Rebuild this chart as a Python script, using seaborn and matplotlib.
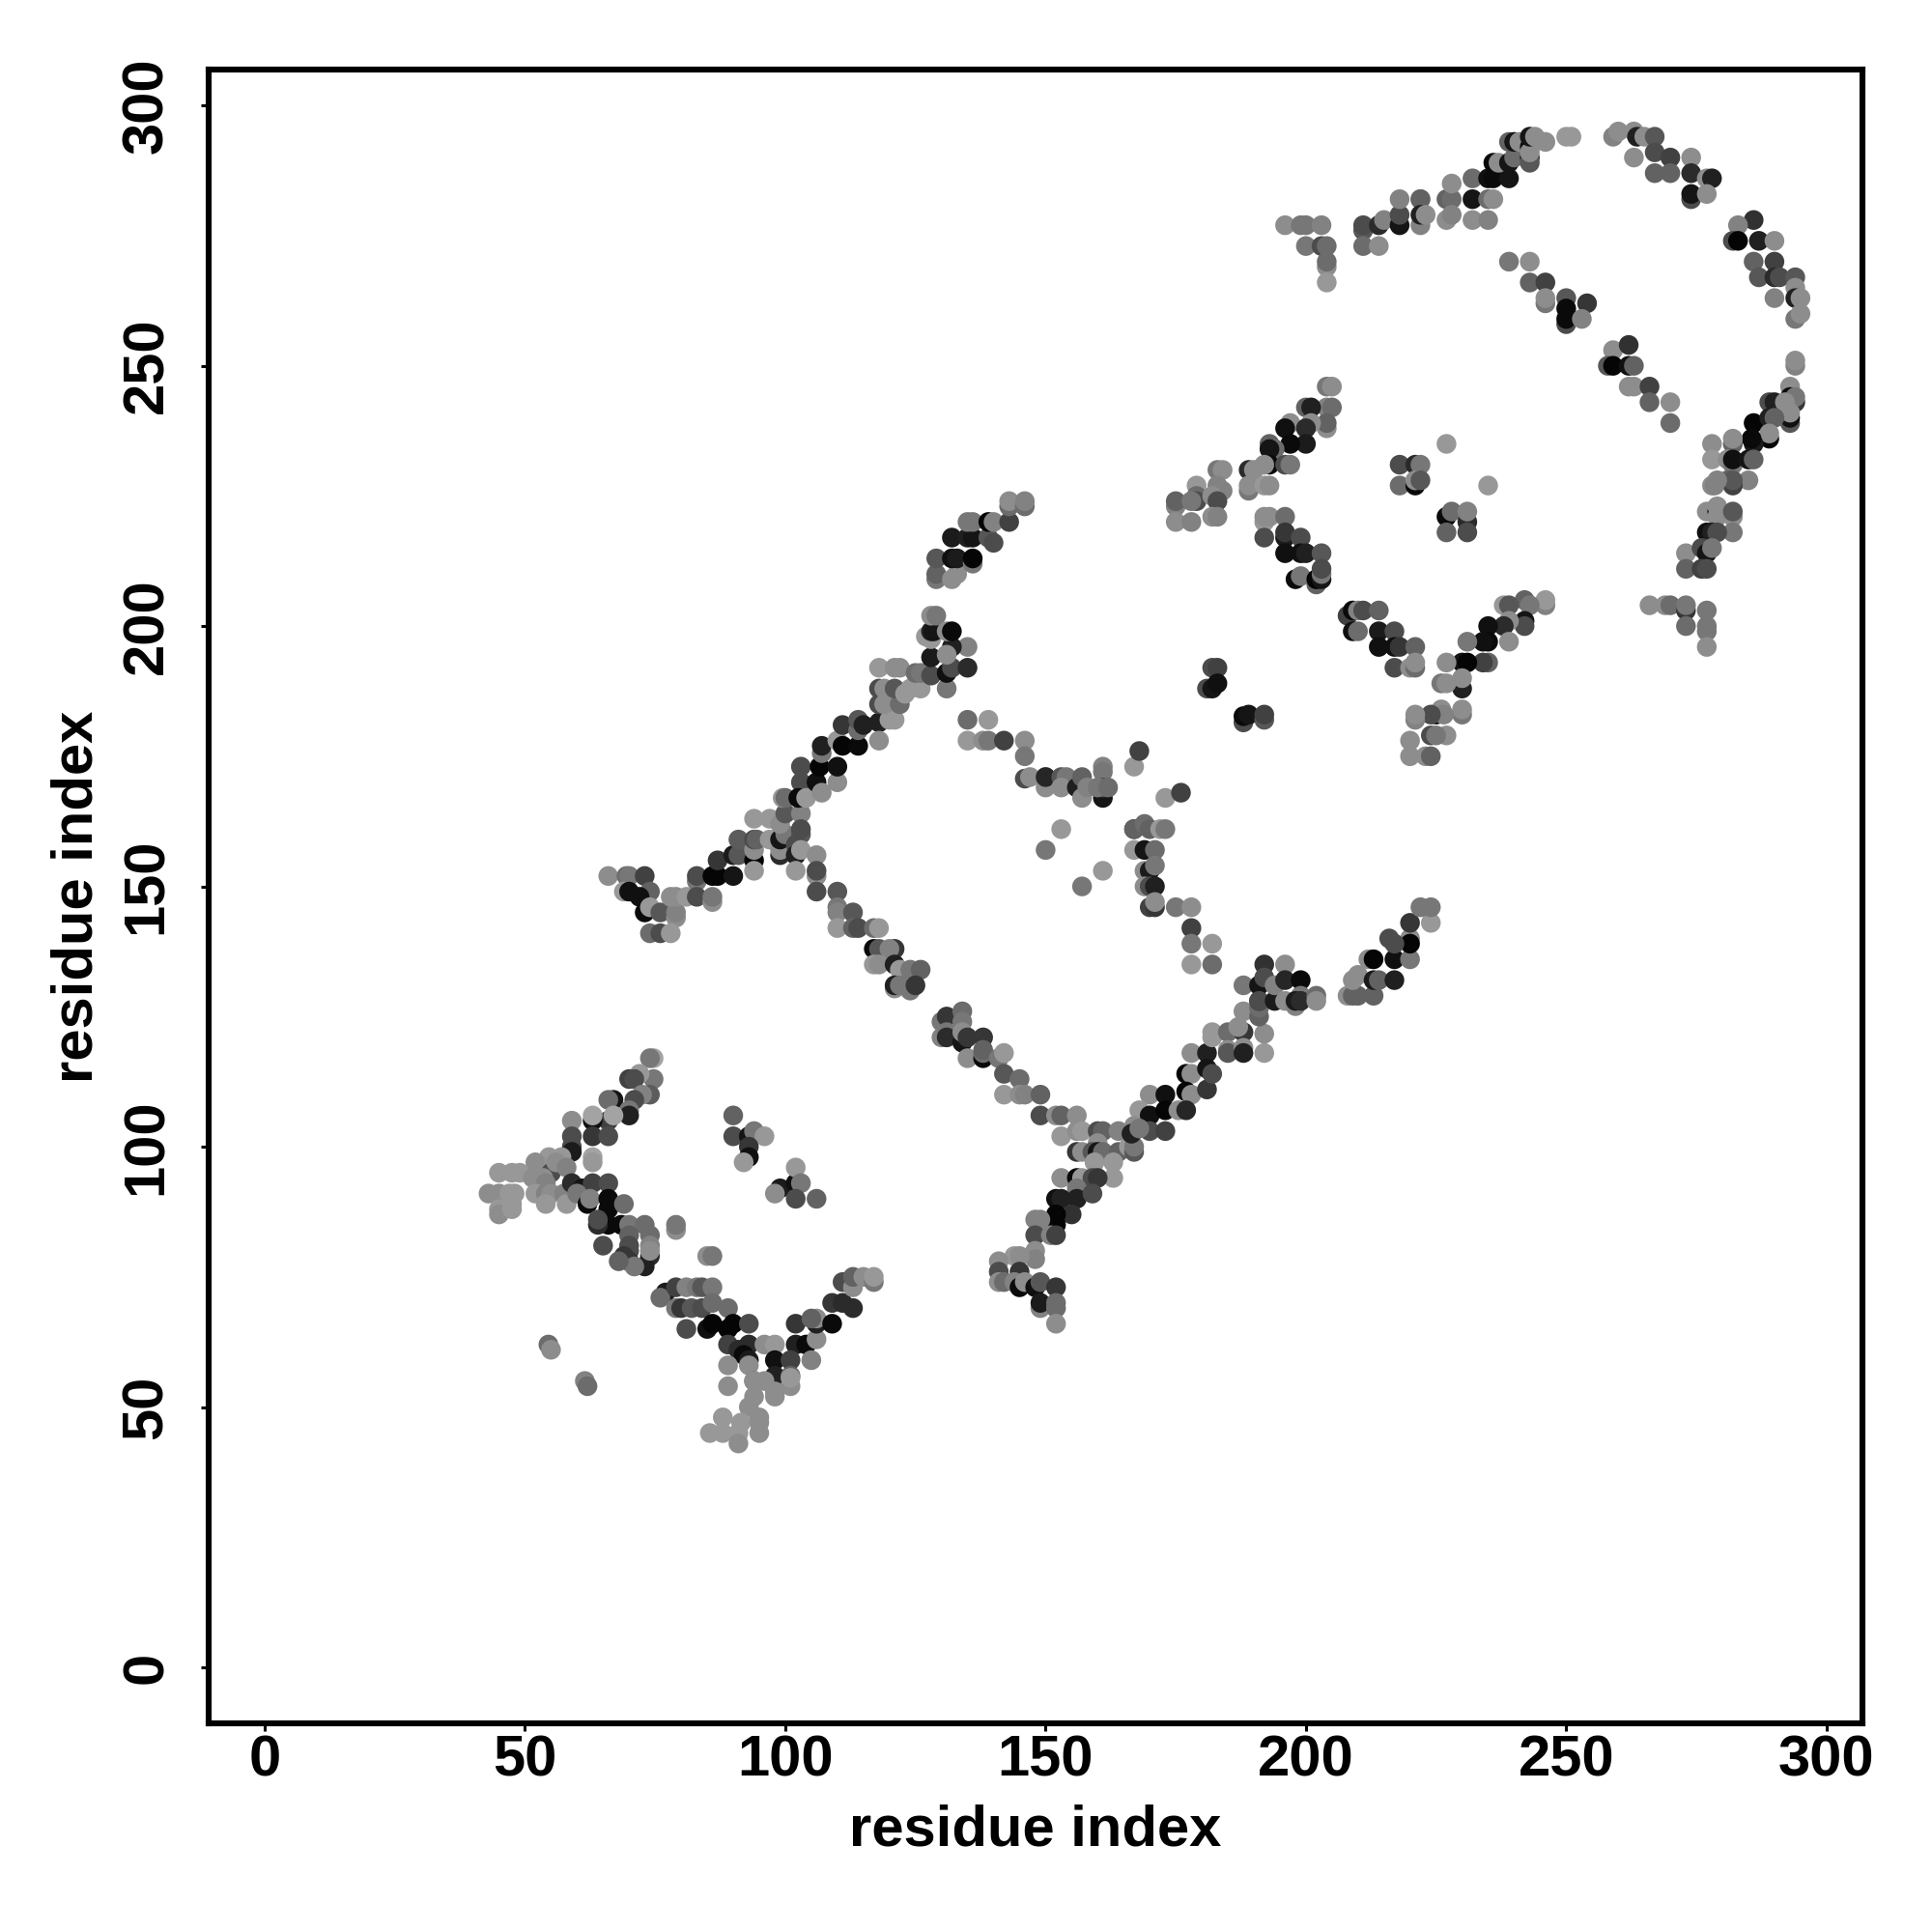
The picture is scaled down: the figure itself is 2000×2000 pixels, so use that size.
"""Residue contact map, x index / y index / shade per contact."""
import pandas as pd
import matplotlib
matplotlib.use("Agg")
import matplotlib.pyplot as plt
import seaborn as sns

# (residue x, residue y, grey level)
wedge_upper = [
    (74.7,117,150),(74,117,110),(74.7,113,110),(72,114,140),(70,113,60),(71,113,70),(74,110,85),(72.5,110,120),
    (67,109,20),(66,109,100),(71,109,70),(70,107,110),(70,106,30),(66,105,60),(67,106,150),(63,105,15),
    (63,106,150),(59,105,130),(59,102,70),(59,100,70),(63,102,50),(66,102,70),(59,99,25),(63,98,150),
    (63,97,140),(57,98,140),(54.6,98,140),(52,97,130),(55,95,70),(56,97,130),(58,96,120),
]
wedge_left = [
    (45,95,140),(47.5,95,140),(49,95,140),(51.5,94,130),(53.5,94,130),(54,93,120),(43,91,130),(45,91,130),
    (47,91,140),(48,91,140),(52,91,140),(54,91,120),(55,91,130),(57.5,91,120),(54,89,140),(58,89,140),
    (47.5,89,140),(45,88,140),(45,87,130),(47.5,88,140),
]
wedge_lower = [
    (59,93,40),(61,92,20),(63,93,60),(66,93,70),(60,91,110),(62,89,10),(62.5,90,120),(66,90,10),(66,88,10),
    (69,89,100),(66,85,10),(64,85,40),(64,86,70),(68.5,85,10),(70,85,110),(73,85,100),(70,83,90),(74,83,100),
    (70,81,70),(74,81,120),(65,81,70),(70,80,70),(69,79,50),(70,78,50),(74,79,40),(73,77,30),(71,77,110),
    (68,78,90),(74,80,130),
]
inner_first = [
    (90,106,90),(90,102,70),(93,102,20),(94,103,110),(96,102,140),(93,100,50),(93,98,15),(92,97,140),
    (99,92,25),(98,91,130),(102,93,15),(102,96,140),(103,93,110),(102,90,70),(106,90,90),
    (79,84,130),(79,85,110),(85,79,130),(86,79,110),(54.5,62,100),(55,61,130),(61.5,55,120),(62,54,100),
]
v_bottom = [
    (77,72,25),(76,71,100),(79,73,60),(81,73,120),(83,73,110),(84,73,80),(86,73,110),(79,69,110),(80,69,50),
    (82,69,80),(84,69,70),(86,70,100),(89,69,100),(81,65,70),(85,65,15),(86,66,5),(89,65,5),(90,66,5),(93,66,70),
    (89,62,60),(91,61,40),(93,62,40),(92,60,10),(96,62,130),(98,62,140),(102,66,50),(102,62,30),(104,62,10),
    (106,63,130),(89,58,130),(93,59,25),(98,59,15),(101,59,60),(105,59,120),(106,66,30),(106,67,130),(109,66,10),
    (105,67,90),(109,70,50),(111,70,40),(113,69,40),(111,74,70),(113,73,130),(113,75,90),(115,75,130),(117,74,110),
    (117,75,140),
]
v_stem = [
    (89,54,130),(93,58,130),(94,55,90),(94,55,130),(94,52,130),(93,50,130),(98,56,30),(96,55,130),(98,53,130),
    (98,52,130),(101,56,90),(101,54,130),(101,55.6,140),(88,48,140),(85.5,45,140),(88,45,140),(91.5,47,140),
    (91,45,140),(91,43,130),(95,48,130),(95,47,130),(95,45,130),
]
diag_left = [
    (66,152,130),(69.5,152,100),(70,152,110),(73,152,60),(69,149,140),(70,149,15),(74,149,90),(72,148,15),
    (73,145,10),(74,146,140),(76,145,80),(79,144,130),(79,145,120),(78,148,130),(79,148,130),(81,148,140),
    (74,141,100),(76,141,70),(78,141,140),(83,151,110),(83,152,70),(83,148,70),(86,147,130),(86,148,110),
    (86,152,5),(87,152,5),(87,155,50),(90,152,20),(90,156,25),(91,156,80),(91,159,85),
    (94,155,5),(94,153,140),(94,157,130),(94,159,70),(94.5,159,90),(94,163,140),
]
diag_hub = [
    (97,163,140),(97,159,140),(99,156,40),(99,157,130),(99,159,20),(100,160,110),(99,162,130),(100,164,80),
    (99.5,167,140),(100,167,100),(103,164,120),(103,160,80),(103,161,70),(102,158,70),(102,156,30),(103,157,140),
    (102,153,140),(106,156,130),(106,152,130),(106,153,70),(106,149,70),
]
diag_mid = [
    (103,170,70),(103,173,70),(102.5,167,10),(104,167,140),(106,170,15),(107,168,130),(110,170,130),(106.6,173,5),
    (110,173,15),(107,175.6,110),(107,177,30),(110,178,140),(111,177,5),(114,177,10),(111,181,50),(114,180,100),
    (114,182,80),(115,181,30),(118,181.5,30),(118,178,130),(121,182,140),(120,182,140),
    (118,188,70),(118,185,70),(119,185,130),(119,188,130),(122,185,100),(121,188,80),(123,187,140),(126,188,140),
    (124,188,140),(118,192,140),(121,192,130),(122,192,130),(125,191,100),(126,191,110),
]
diag_top = [
    (128,190.5,70),(128,194,25),(127,198,140),(128,197.5,140),(128,199,30),(128.5,199,20),(128,202,130),(129,202,110),
    (131,188,110),(131,191,15),(132,192,70),(135,192,40),(135,196,120),(132,196,30),(131,194.5,130),(131,199,130),
    (132,199,10),
]
diag_crown = [
    (129,209,110),(129,210,90),(132,209,130),(133,210,130),(129,213,80),(132,213,15),(133,213,25),(136,212,110),
    (136,213,5),(132,217,25),(135,217,30),(136,217,20),(139,217,80),(140,216,70),(135,220,110),(136,220,110),
    (139,220,5),(140,220,120),(143,220,60),(143,223,100),(143,224,130),(146,223,100),(146,224,120),
]
strand_top = [
    (135,182,100),(139,182,140),(135,178,140),(138,178,130),(139,178,110),(142,178,60),(146,178,130),(146,175,110),
    (146,170.7,70),(147,171,130),(150,169,130),(150,171,130),(150,171,35),(153,171,80),(154,171,110),(153,169,130),
    (156,169,30),(157,167,130),(157,171,90),(158,169,120),(161,173,120),(161,172,110),(161,167,20),(161,169,70),
    (160,169,110),(162,169,100),(167,173,140),(168,176,60),(173,167,140),(176,168,60),
    (153,161,140),(150,157,110),(161,153,140),(157,150,110),
]
strand_vert = [
    (167,161,15),(167,161,90),(169,162,100),(170,161,90),(172,161,140),(173,161,110),(167,157,140),(169,157,20),
    (171,157,100),(169,153,130),(170,153,25),(171,154,110),(169,150,130),(170,150,70),(171,150,30),(170,146,60),
    (171,146,50),(171,147,130),(175,146,110),(178,146,130),(178,142,60),(178,139,110),(178,135,140),(182,139,140),
    (182,135,100),
]
strand_down = [
    (110,149,80),(110,146,110),(110,145,120),(113,145,80),(110,142,140),(113,142,90),(114,142,70),(117,142,100),
    (118,142,140),(117,138,10),(118,138,80),(121,138,50),(120,138,120),(117,135,140),(118,135,130),(121,135,30),
    (122,134,140),(124,134,110),(126,134,90),(121,130.4,130),(121,131,30),(122,131,110),(124,130,110),(125,131,50),
    (130,124,110),(131,125,50),(134,126,100),(134,124,110),(130,121,120),(131,122,110),(131,121,40),(134,120,20),
    (134,122,130),(135,121,50),(138,121,50),(135,117,130),(138,117,10),(138,118,100),(138,118.6,90),(141,117,110),
    (142,118,140),(142,114,80),(145,113,100),(142,110,140),(145,110,130),(146,110,120),(149,110,90),(149,106,70),
    (152,106,130),(153,106,90),(156,106,130),
]
hub_low = [
    (153,102,140),(156,103,130),(157,103,140),(156,99,50),(157,99,130),(160,103,70),(161,103,90),(164,103,120),
    (160,100.7,130),(159,99,80),(160,99,20),(161,99,100),(164,99,90),(166,100,140),(167,99,80),(167,100,110),
    (159.4,97,140),(163,97,140),(163,94,140),(153,94,130),(156,94,10),(157,94,140),(159,94,70),(160,94,50),
    (156,92,110),(156,90,30),(159,91,70),(152,90,15),(153,90,30),(155,87,45),(152,87,5),(152,85,5),
]
stem_low = [
    (148,86,120),(149,86,120),(148,83,70),(151,83,120),(152,83,60),(148,80,130),(148,78.4,120),(144,79,140),
    (145,79,130),(141,78,130),(141,76,70),(145,76,50),(141,74,130),(142,74,100),(144,74,120),(145,73,10),(146,74,130),
    (148,73,15),(149,74,80),(152,73,50),(149,69,120),(149,70,25),(152,70,100),(152,69,100),(152,66,130),
]
rise_a = [
    (170,110,130),(173,110,15),(168,107,140),(170,106,15),(173,107,5),(170,103,70),(173,103,60),(167,104,130),
    (166.5,102.5,30),(168,103.5,110),(177,114,5),(178,114,130),(177,110.6,5),(178,110,130),(175.5,107,130),(177,107,35),
    (181,111,50),(178,118,130),(181,118,30),(181,115,20),(182,114,70),(182,122,140),(182,121,140),(185,122,100),
    (188,126,130),(188,122,50),(187,123,130),(185,118.6,130),(185,118,80),(188,119,130),(188,118,30),(192,118,140),
    (192,121.7,130),(191,125,90),(191,126.7,100),
]
rise_b = [
    (192,135,45),(196,135,130),(188,131,110),(191,131,20),(192,132.5,70),(191,128,30),(191,128,70),(194,128,25),
    (194,131,120),(196,132,35),(196,128,130),(199,132,10),(199,129,110),(198,127,120),(198,128,25),(199,128,40),
    (202,129,100),(202,128,130),(208,129,130),(209,129,90),(210,129,90),(213,129,90),(209,132,130),(210,133,130),
    (213,132,25),(214,132,90),(217,132,30),(212,136,130),(213,136,5),(217,136,15),(220,136,110),(220,140,130),
    (220,139,5),(216,140,70),(217,139,70),(220,143,50),(224,143,140),(222,146,110),(224,146,110),
]
mid_arm = [
    (204,246,110),(205,246,130),(204,242,120),(205,242,100),(200,242,90),(201,242,30),(204,238,130),(204,239,90),
    (197,239,130),(201,239,130),(200,238,40),(196,238,15),(200,235,25),(197,235,10),(193,235,90),(194,234,100),
    (193,234,20),(193,231,10),(189,230,40),(190,230,130),(192,231,130),(196,231,70),(197,231,110),(189,226,110),
    (189,227,130),(192,227,140),(193,227,130),(183,230,110),(184,230,130),(179,227,140),(179,225,100),(179,224,70),
    (183,227,120),(184,226,120),(182,225,130),(183,224,70),(175,223,120),(175,224,90),(178,224,110),(175,220,130),
    (178,220,120),(182,221,130),(183,221,120),
]
mid_down = [
    (192,220,140),(192,221,130),(193,221,130),(196,221,100),(192,217,70),(196,217,25),(196,218,50),(199,217,70),
    (196,214,15),(199,214,15),(200,214,30),(203,214,80),(198,209,10),(199,209.6,110),(202,208,90),(202,209,5),
    (203,209,20),(203,210,110),(203,211,70),
]
inner_second = [
    (218,231,70),(221,231,40),(222,231,110),(227,235,140),(218,227,100),(221,227,10),(221,228,130),(222,228,80),
    (235,227,140),(227,221,10),(228,222,100),(231,220,40),(231,222,120),(227,218,90),(231,218,70),
    (182,192,70),(183,192,60),(181,188,70),(182,188,20),(183,189,15),(188,181.5,70),(188,182.7,10),(189,183,20),
    (192,182,80),(192,183,60),
]
mid_v = [
    (208,202,60),(209,203,10),(209,199,15),(210,199,100),(210,203,120),(211,203,70),(214,203,90),(214,199,25),
    (214,196,15),(217,199,70),(217,196,15),(218,196,50),(217,192,70),(221,196,90),(220,192,130),(221,192,100),
    (221,193,130),(246,204,120),(246,205,140),(242,205,90),(243,204,110),(238,204,140),(239,204,80),(242,201,20),
    (242,200,70),(239,201,130),(238,200,40),(235,200,15),(235,197,10),(234,197,15),(239,197,130),(231,197,110),
    (235,193,90),(234,193,60),(230,193,20),(231,193,5),(227,193,130),(230,188,30),(230,190,130),(226,189,110),
    (227,189,130),(230,183,110),(230,184,130),(225,183,15),(226,184,130),(226.5,183,120),(224,183,70),(221,182,120),
    (221,183,130),(227,179,130),(224,179,70),(225,179,110),(220,178,130),(220,175,130),(223,175,130),(224,175,90),
]
top_arm = [
    (196,277,130),(199,277,110),(200,277,110),(203,277,120),(200,273,110),(203,273,70),(204,273,100),(204,269,130),
    (204,270,100),(204,266,140),(211,276,80),(211,277,70),(211,273,100),(214,273,130),(214,277,40),(215,278,120),
    (218,277,20),(218,279,70),(218,282,120),(222,282,130),(222,282,90),(222,277,120),(222,279,30),(223,279,130),
    (227,282,90),(228,282,100),(228,285,130),(227,278,130),(228,279,120),(232,282,20),(235,282,100),(236,282,130),
    (232,286,100),(232,278,130),(235,278,120),(235,286,15),(236,286,10),(239,286,20),(236,289,10),(237,289,130),
    (239,289,20),(240,290,100),(243,290,30),(243,289,80),(239,293,90),(240,293,20),(241,293,130),(243,292,10),
    (243,291,130),(243,294,20),(244,294,130),(246,293,130),(250,294,140),(251,294,140),
]
top_right = [
    (259,294,120),(260,295,130),(263,295,130),(263.6,294,30),(265,294,130),(267,294,80),(263,290,130),(267,291,70),
    (267,287,90),(270,290,60),(270,287,90),(274,290,130),(274,287,40),(274,282,70),(274,283,20),(277,286,130),
    (278,286,30),(277,283,130),(286,278,45),(283,277,120),(282,274,70),(283,274,5),(287,274,30),(290,274,130),
    (286,270,90),(290,270,60),(287,267,80),(290,267,40),(291,267,70),(294,267,80),(290,263,120),(294,265,130),
    (294,263,30),(295,263,130),(294,259,110),(295,260,130),
]
top_inner = [
    (239,270,110),(243,270,130),(243,266,90),(246,266,60),(246,262,110),(246,263,130),(250,263,80),(250,261,10),
    (250,258,70),(250,259,10),(254,262,50),(253,259,120),(259,253,130),(262,254,45),(258,250,80),(259,250,5),
    (262,250,15),(263,250,90),(262,246,130),(263,246,130),(266,246,60),(266,243,90),(270,243,130),(270,239,100),
]
right_arm = [
    (294,250,120),(294,251,130),(293,246,130),(293,244,10),(294,243,50),(294,244,110),(293,239,80),(293,240,15),
    (293,241,130),(289,243,70),(290,243,30),(292,243,130),(286,239,5),(289,240,30),(290,240,90),(289,236,5),
    (289,237,130),(286,235,25),(285.6,236,10),(282,235,90),(282,236,130),(278,235,130),(278,232,140),(281,232,130),
    (282,231,110),(282,232,15),(285,232,20),(286,232,90),(285,228,120),(281,228,90),(282,227,60),(282,228,80),
    (279,228,120),(278,227,130),(278.5,227,120),(277,222,130),(279,222,20),(279,221,130),(279,223,130),(282,221,130),
    (282,222,80),(282,218,110),(277,218,15),(278,218,30),(279,218,70),(273,214,130),(276,215,70),(277,214,20),
    (278,215,110),(273,211,90),(276,211,60),(277,211,70),(266,204,130),(269,204,130),(270,204,100),(273,203,50),
    (273,204,110),(273,200,100),(277,203,110),(277,199,110),(277,200,110),(277,196,130),
]
tick_values = [0, 50, 100, 150, 200, 250, 300]

contacts = (wedge_upper + wedge_left + wedge_lower + inner_first + v_bottom + v_stem + diag_left + diag_hub
            + diag_mid + diag_top + diag_crown + strand_top + strand_vert + strand_down + hub_low + stem_low
            + rise_a + rise_b + mid_arm + mid_down + inner_second + mid_v + top_arm + top_right + top_inner
            + right_arm)
df = pd.DataFrame(contacts, columns=['x', 'y', 'shade'])

sns.set_style("white")
plt.rcParams['font.family'] = ['Liberation Sans', 'DejaVu Sans']
plt.rcParams['font.weight'] = 'bold'

fig = plt.figure(figsize=(10, 10), dpi=200)
ax = fig.add_axes([216 / 2000, 216 / 2000, 1712 / 2000, 1712 / 2000])

sns.scatterplot(data=df, x='x', y='y', hue='shade', hue_norm=(0, 235), palette='gray',
                s=54, linewidth=0, legend=False, ax=ax)

# limits follow the tick positions measured on the frame
ax.set_xlim(-10.76, 306.9)
ax.set_ylim(-10.76, 306.9)
ax.set_xticks(tick_values)
ax.set_yticks(tick_values)

for side in ax.spines.values():
    side.set_linewidth(2.2)
    side.set_color('black')

ax.tick_params(axis='x', length=3, width=1.1, pad=1, labelsize=21.5, bottom=True, color='black', labelcolor='black')
ax.tick_params(axis='y', length=3, width=1.1, pad=10, labelsize=21.5, left=True, color='black', labelcolor='black')
plt.setp(ax.get_yticklabels(), rotation=90, va='center')

ax.set_xlabel('residue index', fontsize=21.5, fontweight='bold', color='black')
ax.set_ylabel('residue index', fontsize=21.5, fontweight='bold', color='black')
ax.xaxis.set_label_coords(0.5, -0.0485)
ax.yaxis.set_label_coords(-0.0632, 0.5)

fig.savefig('out.png', dpi=200, facecolor='white')
